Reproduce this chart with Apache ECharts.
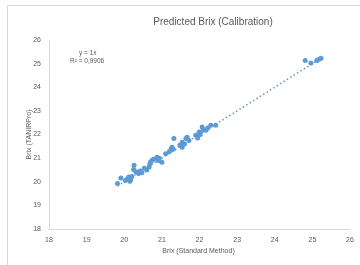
<!DOCTYPE html>
<html><head><meta charset="utf-8">
<script src="https://cdn.jsdelivr.net/npm/echarts@6/dist/echarts.min.js"></script>
<style>html,body{margin:0;padding:0;background:#fff}#c{width:360px;height:265px}</style>
</head><body><div id="c"></div>
<script>
const xTicks = [18,19,20,21,22,23,24,25,26];
const yTicks = [18,19,20,21,22,23,24,25,26];
const standardBrix = [19.82,19.91,20.03,20.08,20.12,20.15,20.17,20.20,20.26,20.25,20.31,20.38,20.42,20.47,20.53,20.60,20.66,20.68,20.70,20.74,20.78,20.87,20.90,20.93,21.00,21.10,21.20,21.25,21.27,21.30,21.32,21.48,21.54,21.54,21.60,21.64,21.67,21.72,21.90,21.95,21.99,22.02,22.07,22.10,22.17,22.22,22.30,22.43,24.81,24.96,25.12,25.18,25.23];
const predictedBrix = [19.93,20.16,20.05,20.12,20.20,20.02,20.10,20.22,20.70,20.52,20.42,20.35,20.45,20.38,20.57,20.50,20.62,20.75,20.84,20.91,20.95,21.04,20.90,21.00,20.83,21.19,21.28,21.40,21.46,21.38,21.83,21.55,21.67,21.46,21.60,21.83,21.88,21.75,21.97,21.85,22.11,22.00,22.32,22.20,22.18,22.28,22.39,22.39,25.13,25.03,25.13,25.18,25.23];
const slope = 1;
const r2Text = "R² = 0,9906";
const eqText = "y = 1x";

const pts = standardBrix.map((x,i)=>[x,predictedBrix[i]]);
const xmin = Math.min(...standardBrix), xmax = Math.max(...standardBrix);
const trend = [[xmin, slope*xmin],[xmax, slope*xmax]];
const font = '"Liberation Sans", Arial, sans-serif';
const chart = echarts.init(document.getElementById('c'));
chart.setOption({
  animation:false,
  textStyle:{fontFamily:font},
  title:{text:'Predicted Brix (Calibration)', left:208, top:12, textAlign:'center',
    textStyle:{fontSize:10, fontWeight:'normal', color:'#595959', fontFamily:font}},
  grid:{left:49, right:10, top:40, bottom:36},
  xAxis:{type:'value', min:18, max:26, interval:1,
    name:'Brix (Standard Method) ', nameLocation:'middle', nameGap:19, nameMoveOverlap:false,
    nameTextStyle:{fontSize:7, color:'#595959'},
    axisLine:{lineStyle:{color:'#d9d9d9'}}, axisTick:{show:false}, splitLine:{show:false},
    axisLabel:{fontSize:7, color:'#595959', margin:8}},
  yAxis:{type:'value', min:18, max:26, interval:1,
    name:'Brix (TANIRPro)', nameLocation:'middle', nameGap:16, nameRotate:90, nameMoveOverlap:false,
    nameTextStyle:{fontSize:7, color:'#595959'},
    axisLine:{show:true, lineStyle:{color:'#d9d9d9'}}, axisTick:{show:false}, splitLine:{show:false},
    axisLabel:{fontSize:7, color:'#595959', margin:8}},
  graphic:[
    {type:'line', shape:{x1:7.5,y1:5.5,x2:7.5,y2:265}, style:{stroke:'#d9d9d9', lineWidth:1}, silent:true},
    {type:'line', shape:{x1:7.5,y1:5.5,x2:360,y2:5.5}, style:{stroke:'#d9d9d9', lineWidth:1}, silent:true},
    {type:'text', left:79, top:50, style:{text:eqText, fontSize:6.5, fill:'#595959', fontFamily:font}},
    {type:'text', left:70, top:58, style:{text:r2Text, fontSize:6.5, fill:'#595959', fontFamily:font}}
  ],
  series:[
    {type:'line', data:trend, symbol:'none', z:1,
      lineStyle:{color:'#5B9BD5', width:1.5, type:[1.5,2.5]}},
    {type:'scatter', data:pts, symbolSize:5, z:2,
      itemStyle:{color:'#5B9BD5', opacity:1}}
  ]
});
</script></body></html>
